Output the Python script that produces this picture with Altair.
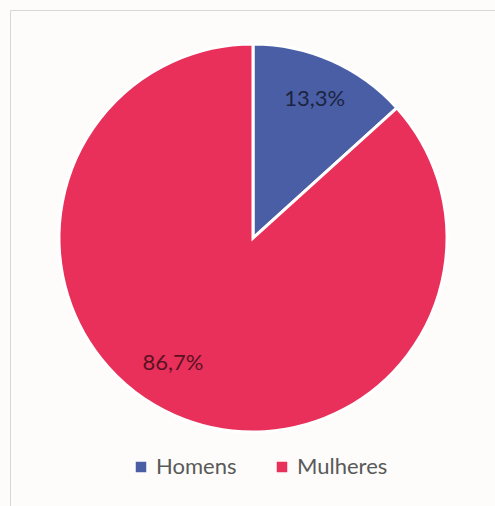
import altair as alt
import pandas as pd

categories = ["Homens", "Mulheres"]
values = [13.3, 86.7]
labels = ["13,3%", "86,7%"]
colors = ["#4a5ea6", "#e8305a"]

df = pd.DataFrame({
    "category": categories,
    "value": values,
    "label": labels,
    "order": list(range(len(categories))),
})

base = alt.Chart(df)

border = base.transform_filter(alt.datum.order == 0).mark_rect(
    filled=False, stroke="#d6d6d6", strokeWidth=1
).encode(
    x=alt.value(10.5), y=alt.value(10.5), x2=alt.value(800), y2=alt.value(800)
)

pie = base.mark_arc(outerRadius=194, stroke="white", strokeWidth=3).encode(
    theta=alt.Theta("value:Q", stack=True),
    order=alt.Order("order:Q"),
    color=alt.Color(
        "category:N",
        sort=categories,
        scale=alt.Scale(domain=categories, range=colors),
        legend=alt.Legend(
            title=None,
            orient="none",
            direction="horizontal",
            legendX=130,
            legendY=456,
            symbolType="square",
            symbolSize=110,
            symbolStrokeWidth=0,
            labelFont="Lato",
            labelFontSize=22,
            labelColor="#595959",
            labelOffset=4,
            columnPadding=34,
        ),
    ),
    x=alt.value(253),
    y=alt.value(238),
)

lab = base.transform_joinaggregate(total="sum(value)").transform_window(
    cum="sum(value)", sort=[alt.SortField("order")]
).transform_calculate(
    mid="(datum.cum - datum.value / 2) / datum.total * 2 * PI"
)

text_style = dict(font="Lato", fontSize=22, color="black", opacity=0.62)

t1 = lab.transform_filter(alt.datum.order == 0).mark_text(**text_style).encode(
    theta=alt.Theta("mid:Q", scale=None),
    radius=alt.value(152),
    text="label:N",
    x=alt.value(253),
    y=alt.value(238),
)
t2 = lab.transform_filter(alt.datum.order == 1).mark_text(
    dx=-20, dy=-10, **text_style
).encode(
    theta=alt.Theta("mid:Q", scale=None),
    radius=alt.value(148),
    text="label:N",
    x=alt.value(253),
    y=alt.value(238),
)

chart = alt.layer(border, pie, t1, t2).properties(
    width=495, height=506, padding=0, background="#fdfcfa",
    autosize=alt.AutoSizeParams(type="none"),
).configure_view(stroke=None)

chart.save("out.html", embed_options={"renderer": "svg", "actions": False})
